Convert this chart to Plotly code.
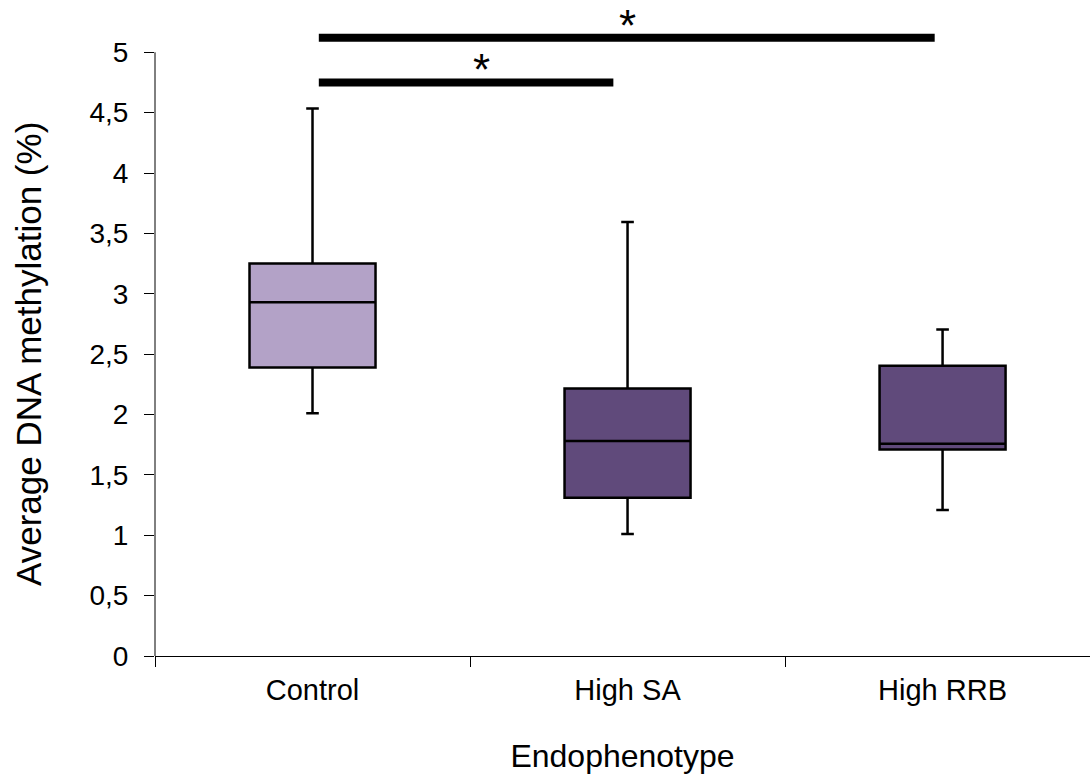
import plotly.graph_objects as go

categories = ["Control", "High SA", "High RRB"]
lower_whisker = [2.01, 1.01, 1.21]
q1_values = [2.39, 1.31, 1.71]
median_values = [2.93, 1.78, 1.757]
q3_values = [3.25, 2.216, 2.403]
upper_whisker = [4.535, 3.595, 2.705]
fill_colors = ["#b3a2c7", "#604a7b", "#604a7b"]

# significance comparisons: bar start / end (category axis units) and height
sig_start = [0.02, 0.02]
sig_end = [0.955, 1.975]
sig_level = [4.75, 5.12]
sig_star_x = [0.535, 1.0]
sig_label = ["*", "*"]
star_offset = 0.105

y_title = "Average DNA methylation (%)"
x_title = "Endophenotype"

fig = go.Figure()
for i, cat in enumerate(categories):
    fig.add_trace(go.Box(
        x=[cat],
        q1=[q1_values[i]],
        median=[median_values[i]],
        q3=[q3_values[i]],
        lowerfence=[lower_whisker[i]],
        upperfence=[upper_whisker[i]],
        fillcolor=fill_colors[i],
        line=dict(color="black", width=2.5),
        width=0.4,
        whiskerwidth=0.1,
        boxpoints=False,
        showlegend=False,
        hoverinfo="skip",
    ))

for s, e, lvl, sx, lab in zip(sig_start, sig_end, sig_level, sig_star_x, sig_label):
    fig.add_shape(type="line", xref="x", yref="y", x0=s, x1=e, y0=lvl, y1=lvl,
                  line=dict(color="black", width=8))
    fig.add_annotation(x=sx, y=lvl + star_offset, xref="x", yref="y", text=lab,
                       showarrow=False, yanchor="middle",
                       font=dict(family="Liberation Sans, Arial", size=44, color="black"))

# y axis line from 0 to 5
fig.add_shape(type="line", xref="paper", yref="y", x0=0, x1=0, y0=0, y1=5,
              line=dict(color="black", width=1))

# y axis title centred on the 0-5 span
fig.add_annotation(x=-0.136, y=2.5, xref="paper", yref="y", text=y_title,
                   textangle=-90, showarrow=False, xanchor="center", yanchor="middle",
                   font=dict(family="Liberation Sans, Arial", size=35, color="black"))

font_family = "Liberation Sans, Arial, sans-serif"
fig.update_layout(
    width=1090, height=774,
    margin=dict(l=155, r=0, t=4, b=118),
    plot_bgcolor="white", paper_bgcolor="white",
    font=dict(family=font_family, color="black"),
    xaxis=dict(
        range=[-0.5, 2.468],
        showline=True, linecolor="black", linewidth=1,
        ticks="outside", tickson="boundaries", ticklen=10, tickcolor="black",
        tickfont=dict(size=29),
        ticklabelstandoff=8,
        title=dict(text=x_title, font=dict(size=32), standoff=42),
        showgrid=False, zeroline=False,
    ),
    yaxis=dict(
        range=[0, 5.4],
        dtick=0.5, tick0=0,
        showline=False,
        ticks="outside", ticklen=10, tickcolor="black",
        tickfont=dict(size=28),
        ticklabelstandoff=10,
        showgrid=False, zeroline=False,
    ),
    separators=", ",
)

fig.write_html("out.html")
